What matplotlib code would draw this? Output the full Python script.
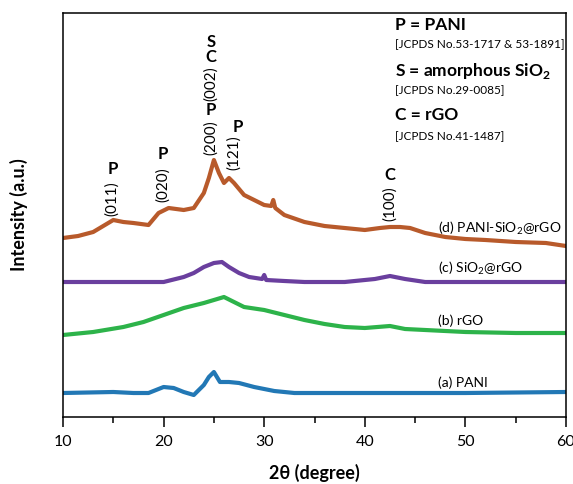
import matplotlib
matplotlib.use('Agg')
import matplotlib.pyplot as plt
from matplotlib.ticker import MultipleLocator, NullLocator

plt.rcParams['font.family'] = ['Lato', 'DejaVu Sans']
plt.rcParams['mathtext.fontset'] = 'custom'
plt.rcParams['mathtext.rm'] = 'Lato'
plt.rcParams['mathtext.bf'] = 'Lato:bold'

# (d) PANI-SiO2@rGO
x_d = [10, 11.5, 13, 14, 15, 16, 17, 18.5, 19.5, 20.5, 22, 23, 24, 24.5, 25, 25.5, 26, 26.5, 27, 28,
       29, 30, 30.7, 30.9, 31.1, 32, 34, 36, 38, 40, 41.5, 42.5, 43.5, 44.5, 46, 48, 50, 52, 55, 58, 60]
I_d = [179, 181, 185, 191, 197, 195, 194, 192, 204, 209, 207, 209, 224, 239, 257, 244, 234, 239, 234, 222,
       217, 212, 211, 217, 209, 202, 195, 191, 189, 187, 189, 190, 190, 189, 184, 180, 178, 177, 175, 174, 171]

# (c) SiO2@rGO
x_c = [10, 15, 20, 22, 23, 24, 25, 25.8, 26.5, 27.5, 28.5, 29.8, 30.0, 30.2, 32, 34, 38, 41, 42.5, 44,
       46, 50, 55, 60]
I_c = [135, 135, 135, 140, 144, 150, 154, 155, 150, 144, 140, 138, 142, 137, 136, 135, 135, 138, 141, 138,
       135, 135, 135, 135]

# (b) rGO
x_b = [10, 13, 16, 18, 20, 22, 24, 25, 26, 27, 28, 30, 32, 34, 36, 38, 40, 42.5, 44, 46, 50, 55, 60]
I_b = [82, 85, 90, 95, 102, 109, 114, 117, 120, 115, 110, 107, 102, 97, 93, 90, 89, 91, 88, 87, 85, 84, 84]

# (a) PANI
x_a = [10, 15, 17, 18.5, 20, 21, 22, 23, 24, 24.5, 25, 25.6, 26.5, 27.5, 29, 31, 33, 40, 50, 60]
I_a = [24, 25, 24, 24, 30, 29, 25, 22, 32, 40, 45, 35, 35, 34, 30, 26, 24, 24, 24, 25]

series = [
    (x_a, I_a, '#2278B5', '(a) PANI', 34),
    (x_b, I_b, '#2DB34A', '(b) rGO', 96),
    (x_c, I_c, '#6A3F9E', '(c) SiO$_2$@rGO', 149),
    (x_d, I_d, '#B85A2B', '(d) PANI-SiO$_2$@rGO', 189),
]

fig = plt.figure(figsize=(5.73, 4.84), dpi=100)
ax = fig.add_axes([63 / 573, 67 / 484, 503 / 573, 404 / 484])

for xs, ys, col, lab, ly in series:
    ax.plot(xs, ys, color=col, linewidth=3.0, solid_joinstyle='round')
    ax.text(47.3, ly, lab, fontsize=10, va='center', ha='left')

# peak labels
bold = dict(fontsize=12, fontweight='bold', ha='center', va='center')
hkl = dict(fontsize=11, rotation=90, ha='center', va='center')
ax.text(15.0, 248, 'P', **bold)
ax.text(14.9, 218, '(011)', **hkl)
ax.text(19.9, 263, 'P', **bold)
ax.text(19.9, 232, '(020)', **hkl)
ax.text(24.7, 279, '(200)', **hkl)
ax.text(24.7, 307, 'P', **bold)
ax.text(24.7, 333, '(002)', **hkl)
ax.text(24.7, 360, 'C', **bold)
ax.text(24.7, 375, 'S', **bold)
ax.text(27.0, 264, '(121)', **hkl)
ax.text(27.4, 290, 'P', **bold)
ax.text(42.5, 242, 'C', **bold)
ax.text(42.5, 213, '(100)', **hkl)

# key
ax.text(43.0, 392, 'P = PANI', fontsize=12.5, fontweight='bold', va='center')
ax.text(43.0, 372, '[JCPDS No.53-1717 & 53-1891]', fontsize=8.5, va='center')
ax.text(43.0, 346, r'S = amorphous SiO$_\mathbf{2}$', fontsize=12.5, fontweight='bold', va='center')
ax.text(43.0, 326, '[JCPDS No.29-0085]', fontsize=8.5, va='center')
ax.text(43.0, 302, 'C = rGO', fontsize=12.5, fontweight='bold', va='center')
ax.text(43.0, 280, '[JCPDS No.41-1487]', fontsize=8.5, va='center')

ax.set_xlim(10, 60)
ax.set_ylim(0, 404)
ax.xaxis.set_major_locator(MultipleLocator(10))
ax.xaxis.set_minor_locator(MultipleLocator(5))
ax.yaxis.set_major_locator(NullLocator())
ax.tick_params(axis='x', which='major', direction='out', length=7, width=1.1, labelsize=11.5, pad=6)
ax.tick_params(axis='x', which='minor', direction='out', length=4, width=1.1)
for s in ax.spines.values():
    s.set_linewidth(1.1)

ax.set_xlabel('2θ (degree)', fontsize=13, fontweight='bold', labelpad=11)
ax.set_ylabel('Intensity (a.u.)', fontsize=13, fontweight='bold', labelpad=25)

fig.savefig('out.png', dpi=100)
